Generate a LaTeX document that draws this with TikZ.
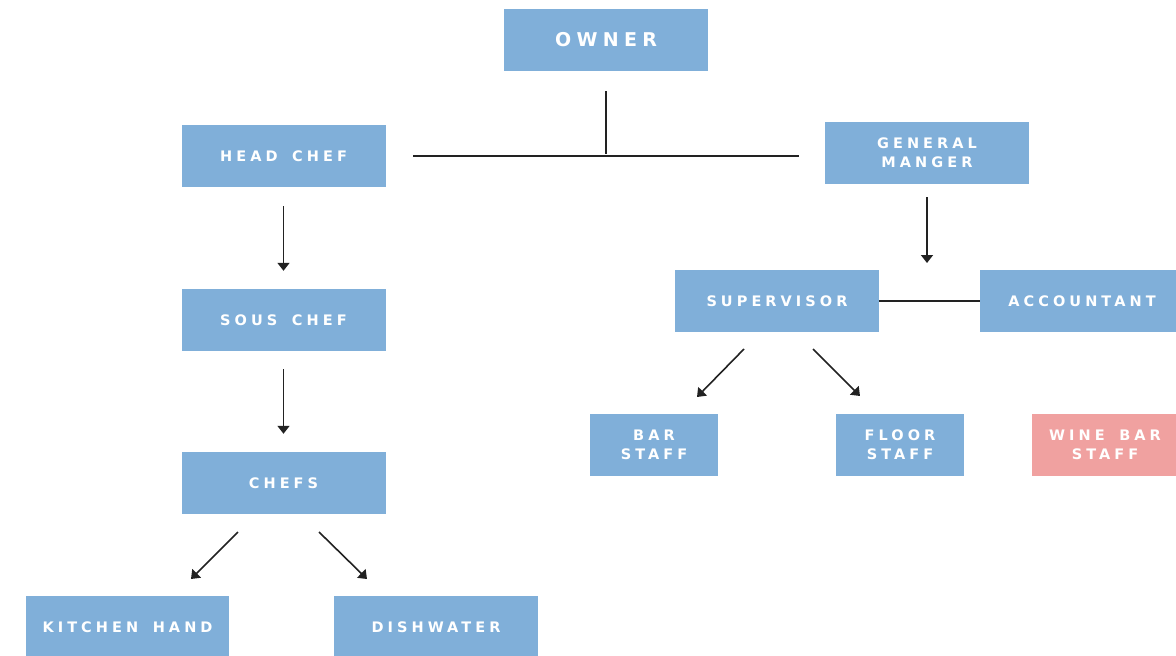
\documentclass[tikz,border=0pt]{standalone}
\usepackage{fontspec}
\newfontfamily\boxfont[LetterSpace=28,WordSpace=1.6]{DejaVu Sans Bold}
\usetikzlibrary{arrows.meta}
\definecolor{boxblue}{HTML}{80AFD9}
\definecolor{boxpink}{HTML}{F0A1A0}
\definecolor{linegray}{HTML}{222222}
\tikzset{
  rolebox/.style={fill=boxblue, draw=none, text=white, align=center,
    inner sep=0pt, minimum width=204pt, minimum height=62pt,
    font=\boxfont\fontsize{14.5}{19}\selectfont},
  smallbox/.style={rolebox, minimum width=128pt},
  link/.style={draw=linegray, line width=1.6pt},
  arrowlink/.style={link, -{Triangle[width=12pt,length=8pt]}},
}
\begin{document}
\begin{tikzpicture}[x=1pt,y=-1pt]
\useasboundingbox (0,0) rectangle (1176,656);
\fill[white] (0,0) rectangle (1176,656);

\node[rolebox, font=\boxfont\fontsize{19}{20}\selectfont] (owner) at (606,40) {OWNER};
\node[rolebox] (hc) at (283.5,156) {HEAD CHEF};
\node[rolebox] (gm) at (927,153) {GENERAL\\MANGER};
\node[rolebox] (sc) at (283.5,320) {SOUS CHEF};
\node[rolebox] (ch) at (283.5,483) {CHEFS};
\node[rolebox, minimum width=203pt] (kh) at (127.5,627) {KITCHEN HAND};
\node[rolebox] (dw) at (436,627) {DISHWATER};
\node[rolebox] (sup) at (777,301) {SUPERVISOR};
\node[rolebox] (acc) at (1082,301) {ACCOUNTANT};
\node[smallbox] (bar) at (654,445) {BAR\\STAFF};
\node[smallbox] (floor) at (900,445) {FLOOR\\STAFF};
\node[smallbox, fill=boxpink, minimum width=146pt] (wine) at (1105,445) {WINE BAR\\STAFF};

% junction line
\coordinate (jl) at (413,156);
\coordinate (jr) at (799,156);
\coordinate (jm) at (606,154);
\draw[link] (jl) -- (jr);
\draw[link, shorten <=20pt] (owner.south) -- (jm);

% vertical arrows
\draw[arrowlink, shorten <=19pt, shorten >=18pt] (hc.south) -- (sc.north);
\draw[arrowlink, shorten <=18pt, shorten >=18pt] (sc.south) -- (ch.north);
\coordinate (gmend) at (927,263);
\draw[arrowlink, shorten <=13pt] (gm.south) -- (gmend);

% supervisor - accountant
\draw[link] (sup.east) -- (acc.west);

% diagonal arrows
\coordinate (s1a) at (744,349); \coordinate (s1b) at (697,397);
\coordinate (s2a) at (813,349); \coordinate (s2b) at (860,396);
\draw[arrowlink] (s1a) -- (s1b);
\draw[arrowlink] (s2a) -- (s2b);
\coordinate (c1a) at (238,532); \coordinate (c1b) at (191,579);
\coordinate (c2a) at (319,532); \coordinate (c2b) at (367,579);
\draw[arrowlink] (c1a) -- (c1b);
\draw[arrowlink] (c2a) -- (c2b);
\end{tikzpicture}
\end{document}
